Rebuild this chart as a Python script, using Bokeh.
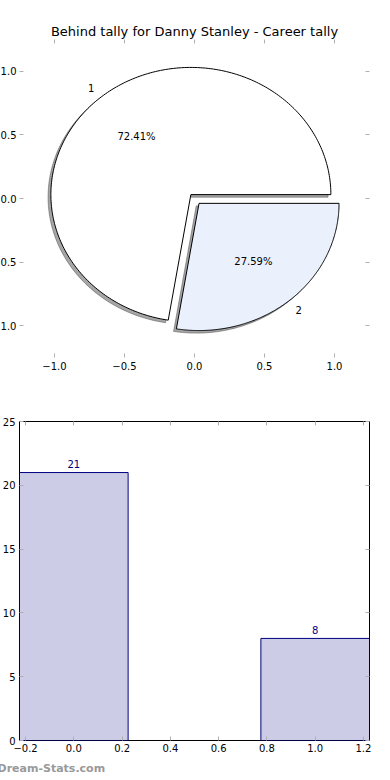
import numpy as np
from bokeh.plotting import figure
from bokeh.layouts import column
from bokeh.models import Range1d, FixedTicker, LinearAxis, Title, CustomJSTickFormatter
from bokeh.core.properties import value
from bokeh.embed import file_html
from bokeh.resources import INLINE

# ---------------- data ----------------
title_text = "Behind tally for Danny Stanley - Career tally"
pie_labels = ["1", "2"]
pie_values = [21, 8]
pie_colors = ["#ffffff", "#eaf0fc"]
pie_explode = [0.04, 0.05]

bar_x = [0, 1]
bar_values = [21, 8]
bar_text = ["21", "8"]

pie_ticks = [-1.0, -0.5, 0.0, 0.5, 1.0]
bar_xticks = [-0.2, 0.0, 0.2, 0.4, 0.6, 0.8, 1.0, 1.2]
bar_yticks = [0, 5, 10, 15, 20, 25]
watermark = "Dream-Stats.com"

FONT = "DejaVu Sans"
TICK_COLOR = "#b0b0b0"
BORDER_L = 32

fmt1 = CustomJSTickFormatter(code="""
const s = Math.abs(tick).toFixed(1);
return tick < -1e-9 ? "\u2212" + s : s;
""")
fmt0 = CustomJSTickFormatter(code="return tick.toFixed(0);")


def style_axis(ax, ticks, fmt, show_labels=True, standoff=4):
    ax.ticker = FixedTicker(ticks=ticks)
    ax.formatter = fmt
    ax.axis_line_color = None
    ax.major_tick_line_color = TICK_COLOR
    ax.major_tick_in = 4
    ax.major_tick_out = 0
    ax.minor_tick_line_color = None
    ax.major_label_text_font = FONT
    if show_labels:
        ax.major_label_text_color = "black"
        ax.major_label_text_font_size = "10px"
        ax.major_label_standoff = standoff
    else:
        ax.major_label_text_color = None
        ax.major_label_text_font_size = "1px"
        ax.major_label_standoff = 0


# ---------------- pie ----------------
p1 = figure(width=BORDER_L + 350 + 14, height=390, output_backend="svg", toolbar_location=None,
            x_range=Range1d(-1.25, 1.25), y_range=Range1d(-1.25, 1.25),
            min_border_left=BORDER_L, min_border_right=14, min_border_top=39,
            min_border_bottom=33, title=title_text)
p1.outline_line_color = None
p1.grid.visible = False
p1.title.align = "center"
p1.title.text_font = FONT
p1.title.text_font_size = "13px"
p1.title.text_font_style = "normal"
p1.title.text_color = "black"
p1.title.standoff = 2
style_axis(p1.xaxis[0], pie_ticks, fmt1, True, 4)
style_axis(p1.yaxis[0], pie_ticks, fmt1, True, 3)
ax_r = LinearAxis(); style_axis(ax_r, pie_ticks, fmt1, False)
ax_t = LinearAxis(); style_axis(ax_t, pie_ticks, fmt1, False)
p1.add_layout(ax_r, "right")
p1.add_layout(ax_t, "above")

total = float(sum(pie_values))
fracs = [v / total for v in pie_values]
cum = np.concatenate([[0.0], np.cumsum(fracs)]) * 2 * np.pi
wx, wy, sx, sy, cols = [], [], [], [], []
lab_x, lab_y, pct_x, pct_y, pct_t = [], [], [], [], []
for i, f in enumerate(fracs):
    a0, a1 = cum[i], cum[i + 1]
    mid = 0.5 * (a0 + a1)
    cx, cy = pie_explode[i] * np.cos(mid), pie_explode[i] * np.sin(mid)
    t = np.linspace(a0, a1, 240)
    xs = np.concatenate([[cx], cx + np.cos(t)])
    ys = np.concatenate([[cy], cy + np.sin(t)])
    wx.append(list(xs)); wy.append(list(ys))
    sx.append(list(xs - 0.02)); sy.append(list(ys - 0.02))
    cols.append(pie_colors[i])
    lab_x.append(cx + 1.1 * np.cos(mid)); lab_y.append(cy + 1.1 * np.sin(mid))
    pct_x.append(cx + 0.6 * np.cos(mid)); pct_y.append(cy + 0.6 * np.sin(mid))
    pct_t.append(f"{100 * f:.2f}%")

p1.patches(sx, sy, fill_color="#4d4d4d", fill_alpha=0.5, line_color="#4d4d4d",
           line_alpha=0.5, line_width=1)
p1.patches(wx, wy, fill_color=cols, line_color="black", line_width=1)
p1.text(lab_x, lab_y, text=pie_labels, text_align="center", text_baseline="middle",
        text_font=value(FONT), text_font_size="10px", text_color="black")
p1.text(pct_x, pct_y, text=pct_t, text_align="center", text_baseline="middle",
        text_font=value(FONT), text_font_size="10px", text_color="black")

# ---------------- bars ----------------
p2 = figure(width=BORDER_L + 350 + 14, height=390, output_backend="svg", toolbar_location=None,
            x_range=Range1d(-0.225, 1.225), y_range=Range1d(0, 25),
            min_border_left=BORDER_L, min_border_right=14, min_border_top=31,
            min_border_bottom=40)
p2.outline_line_color = "black"
p2.outline_line_width = 1
p2.grid.visible = False
style_axis(p2.xaxis[0], bar_xticks, fmt1, True, 3)
style_axis(p2.yaxis[0], bar_yticks, fmt0, True, 4)
bx_r = LinearAxis(); style_axis(bx_r, bar_yticks, fmt0, False)
bx_t = LinearAxis(); style_axis(bx_t, bar_xticks, fmt1, False)
p2.add_layout(bx_r, "right")
p2.add_layout(bx_t, "above")

p2.vbar(x=bar_x, top=bar_values, width=0.45, fill_color="navy", fill_alpha=0.2,
        line_color="navy", line_width=1)
p2.text(bar_x, bar_values, text=bar_text, text_align="center", text_baseline="middle",
        y_offset=-8.5, text_font=value(FONT), text_font_size="10px", text_color="navy")

wm = Title(text=watermark, align="left", offset=-22, standoff=10,
           text_font=FONT, text_font_size="11px", text_font_style="bold",
           text_color="#999999")
p2.add_layout(wm, "below")

layout = column(p1, p2, spacing=0, margin=(0, 0, 0, 19 - BORDER_L))

open("out.html", "w").write(file_html(layout, INLINE))
